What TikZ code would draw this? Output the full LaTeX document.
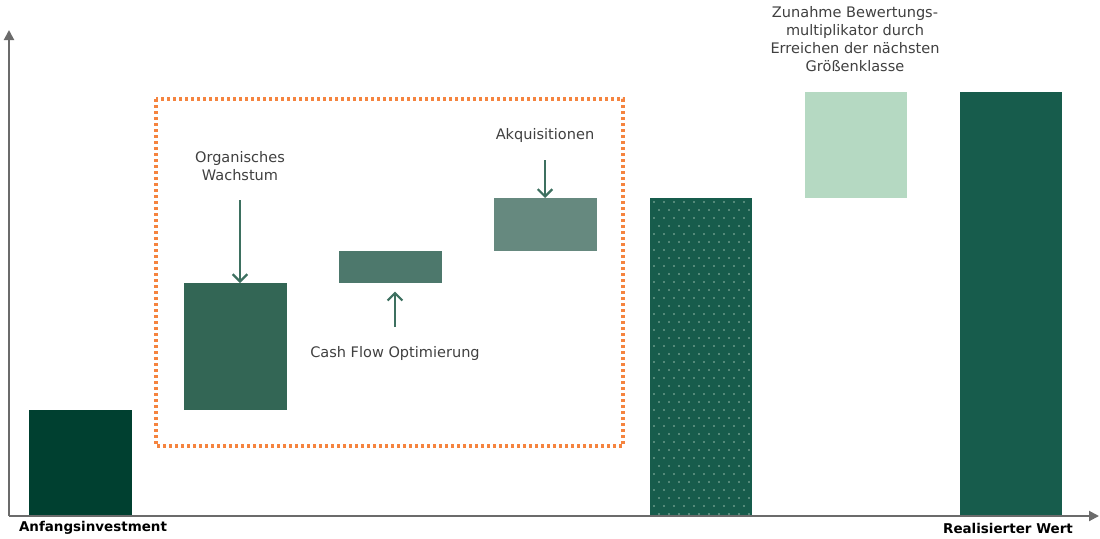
\documentclass[tikz,border=0pt]{standalone}
\usepackage{fontspec}
\setmainfont{DejaVu Sans}
\usetikzlibrary{arrows.meta,fit}
\definecolor{axisgray}{HTML}{6B6B6B}
\definecolor{txtgray}{HTML}{404040}
\definecolor{gA}{HTML}{004030}
\definecolor{gB}{HTML}{336655}
\definecolor{gC}{HTML}{4D786C}
\definecolor{gD}{HTML}{66897F}
\definecolor{gE}{HTML}{175C4C}
\definecolor{gF}{HTML}{B5D9C2}
\definecolor{gArrow}{HTML}{3D7060}
\definecolor{dotc}{HTML}{93B9A9}
\definecolor{orng}{HTML}{F5843F}
\begin{document}
\begin{tikzpicture}[x=0.75pt,y=-0.75pt,
  barbox/.style={inner sep=0pt, outer sep=0pt, draw=none},
  lbl/.style={text=txtgray, font=\fontsize{10.9}{13.5}\selectfont, align=center, inner sep=0pt},
  axlbl/.style={text=black, font=\bfseries\fontsize{10.1}{11}\selectfont, inner sep=0pt},
  axisline/.style={draw=axisgray, line width=1.5pt, -{Triangle[length=7.5pt,width=7.5pt]}},
  growarrow/.style={draw=gArrow, line width=1.6pt, -{Straight Barb[length=5.5pt,width=11pt,line width=1.6pt]}},
  orframe/.style={draw=orng, line width=2.4pt, dash pattern=on 2.3pt off 2.2pt}
]
\useasboundingbox (0,0) rectangle (1100,539);
% axes
\coordinate (o) at (9,516);
\coordinate (ytip) at (9,30);
\coordinate (xtip) at (1099,516);
% frame
\draw[orframe] (156,99) rectangle (623,446);
% bars
\node[barbox, fill=gA, fit={(29,410) (132,516)}] (b1) {};
\node[barbox, fill=gB, fit={(184,283) (287,410)}] (b2) {};
\node[barbox, fill=gC, fit={(339,251) (442,283)}] (b3) {};
\node[barbox, fill=gD, fit={(494,198) (597,251)}] (b4) {};
\node[barbox, fill=gE, fit={(650,198) (752,517)}] (b5) {};
\node[barbox, fill=gF, fit={(805,92) (907,198)}] (b6) {};
\node[barbox, fill=gE, fit={(960,92) (1062,516)}] (b7) {};
% dots on b5
\foreach \r in {0,...,39}{
  \pgfmathsetmacro{\yy}{202+\r*8}
  \pgfmathsetmacro{\off}{mod(\r,2)==0 ? 0 : 5}
  \foreach \c in {0,...,9}{
    \pgfmathsetmacro{\xx}{654+\off+\c*10}
    \ifdim \xx pt<751pt \fill[dotc] (\xx,\yy) circle (0.7pt);\fi
  }
}
\draw[axisline] (o) -- (ytip);
\draw[axisline] (o) -- (xtip);
% labels
\node[lbl] (l2) at (240,166) {Organisches\\Wachstum};
\node[lbl] (l3) at (395,353) {Cash Flow Optimierung};
\node[lbl] (l4) at (545,135) {Akquisitionen};
\node[lbl] (l6) at (855,39) {Zunahme Bewertungs-\\multiplikator durch\\Erreichen der nächsten\\Größenklasse};
\node[axlbl] (a1) at (93,528) {Anfangsinvestment};
\node[axlbl] (a7) at (1008,528) {Realisierter Wert};
% growth arrows
\coordinate (s2) at (240,200);
\coordinate (s3) at (395,327);
\coordinate (s4) at (545,160);
\draw[growarrow] (s2) -- (b2.north -| s2);
\draw[growarrow] (s3) -- ([yshift=-6.5pt]b3.south -| s3);
\draw[growarrow] (s4) -- (b4.north -| s4);
\end{tikzpicture}
\end{document}
